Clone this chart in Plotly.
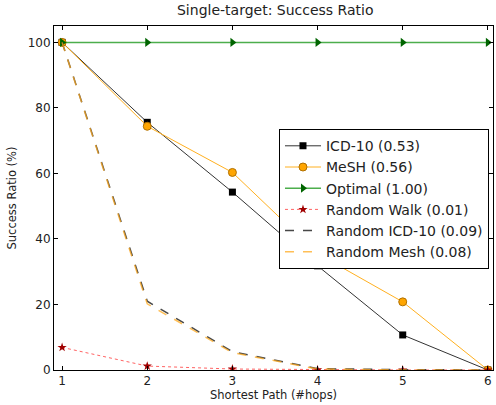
import plotly.graph_objects as go

hops = [1, 2, 3, 4, 5, 6]
icd10 = [100, 75.6, 54.3, 31.8, 10.7, 0]
mesh = [100, 74.4, 60.3, 35.5, 20.8, 0]
optimal = [100, 100, 100, 100, 100, 100]
random_walk = [6.9, 1.2, 0.3, 0.1, 0.0, 0.0]
random_icd10 = [100, 21.0, 5.6, 0.4, 0.1, 0.0]
random_mesh = [100, 20.2, 5.3, 0.3, 0.0, 0.0]

labels = ["ICD-10 (0.53)", "MeSH (0.56)", "Optimal (1.00)", "Random Walk (0.01)",
          "Random ICD-10 (0.09)", "Random Mesh (0.08)"]

fig = go.Figure()
fig.add_trace(go.Scatter(x=hops, y=icd10, name=labels[0], mode="lines+markers",
                         line=dict(color="#333333", width=1),
                         marker=dict(symbol="square", size=7, color="black")))
fig.add_trace(go.Scatter(x=hops, y=mesh, name=labels[1], mode="lines+markers",
                         line=dict(color="#FFB020", width=1),
                         marker=dict(symbol="circle", size=8, color="#FFA500",
                                     line=dict(color="#B07000", width=1))))
fig.add_trace(go.Scatter(x=hops, y=optimal, name=labels[2], mode="lines+markers",
                         line=dict(color="rgba(0,140,0,0.7)", width=1.5),
                         marker=dict(symbol="triangle-right", size=8, color="#006400")))
fig.add_trace(go.Scatter(x=hops, y=random_walk, name=labels[3], mode="lines+markers",
                         line=dict(color="rgba(255,60,60,0.8)", width=1, dash="dot"),
                         marker=dict(symbol="star", size=7, color="#A00000")))
fig.add_trace(go.Scatter(x=hops, y=random_icd10, name=labels[4], mode="lines",
                         line=dict(color="rgba(40,40,40,0.85)", width=1.5, dash="dash")))
fig.add_trace(go.Scatter(x=hops, y=random_mesh, name=labels[5], mode="lines",
                         line=dict(color="rgba(255,170,30,0.75)", width=1.5, dash="dash")))

axis_common = dict(showline=True, linecolor="black", linewidth=1, mirror="ticks",
                   ticks="inside", ticklen=4, tickcolor="black", showgrid=False,
                   zeroline=False, tickfont=dict(size=12, color="#222"))

fig.update_layout(
    width=496, height=405,
    margin=dict(l=54, r=3, t=26, b=35),
    plot_bgcolor="white", paper_bgcolor="white",
    font=dict(family="DejaVu Sans", color="#222"),
    title=dict(text="Single-target: Success Ratio", x=0.555, xanchor="center",
               y=0.974, yanchor="middle", font=dict(size=14)),
    xaxis=dict(range=[0.905, 6.06], tickvals=hops,
               title=dict(text="Shortest Path (#hops)", font=dict(size=11.5), standoff=2),
               **axis_common),
    yaxis=dict(range=[0, 105], tickvals=[0, 20, 40, 60, 80, 100],
               title=dict(text="Success Ratio (%)", font=dict(size=11.5), standoff=8),
               **axis_common),
    legend=dict(x=0.5125, y=0.70, xanchor="left", yanchor="top",
                bordercolor="black", borderwidth=1, bgcolor="white", itemwidth=36,
                font=dict(size=14, color="#222"), tracegroupgap=0),
    showlegend=True,
)

fig.write_html("out.html", config={"displayModeBar": False})
with open("out.html", "r", encoding="utf-8") as f:
    html = f.read()
html = html.replace("<head>", "<head><style>html,body{margin:0;padding:0;overflow:hidden;}</style>", 1)
with open("out.html", "w", encoding="utf-8") as f:
    f.write(html)
